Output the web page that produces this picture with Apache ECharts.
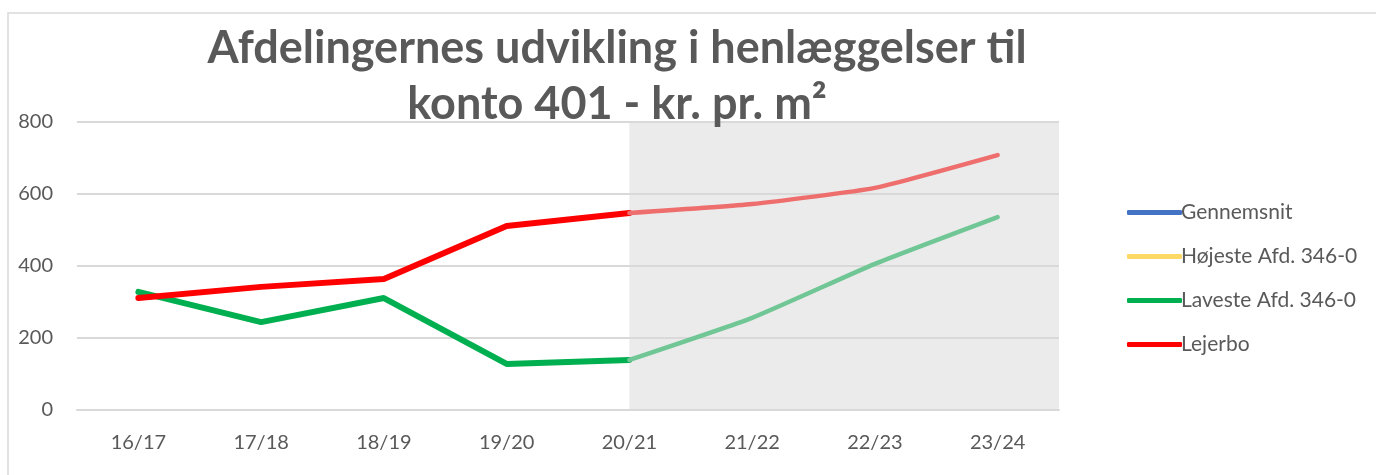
<!DOCTYPE html>
<html>
<head>
<meta charset="utf-8">
<script src="https://cdn.jsdelivr.net/npm/echarts@6/dist/echarts.min.js"></script>
<style>
    html, body { margin: 0; padding: 0; background: #fff; }
    #main { width: 1376px; height: 475px; }
</style>
</head>
<body>
<div id="main"></div>
<script>
// Chart data
const categories = ["16/17", "17/18", "18/19", "19/20", "20/21", "21/22", "22/23", "23/24"];
const gennemsnit = [null, null, null, null, null, null, null, null];
const hoejeste = [null, null, null, null, null, null, null, null];
const laveste = [328, 244, 311, 128, 139, 256, 406, 536];
const lejerbo = [311, 342, 364, 511, 547, 572, 617, 708];
const forecastFrom = 4; // index of 20/21, where the grey forecast area starts

// Split a series into the actual part and the forecast part (shared point at forecastFrom)
const actual = (arr) => arr.map((v, i) => (i <= forecastFrom ? v : null));
const forecast = (arr) => arr.map((v, i) => (i >= forecastFrom ? v : null));

const chart = echarts.init(document.getElementById("main"));

const labelFont = "Lato";
const textColor = "#595959";

const options = {
    animation: false,
    graphic: [
        {
            type: "rect",
            shape: { x: 8, y: 13, width: 1380, height: 470 },
            style: { fill: "none", stroke: "#D9D9D9", lineWidth: 1.5 },
            silent: true,
        },
        {
            type: "text",
            x: 617,
            y: 20,
            z: 10,
            style: {
                text: "Afdelingernes udvikling i henlæggelser til\nkonto 401 - kr. pr. m²",
                textAlign: "center",
                fill: textColor,
                font: "bold 45px Lato",
                lineHeight: 56,
            },
        },
    ],
    legend: {
        orient: "vertical",
        left: 1122,
        top: 197,
        icon: "roundRect",
        itemWidth: 55,
        itemHeight: 5,
        itemGap: 23,
        data: ["Gennemsnit", "Højeste Afd. 346-0", "Laveste Afd. 346-0", "Lejerbo"],
        textStyle: { color: textColor, fontFamily: labelFont, fontSize: 21, padding: [0, 0, 0, -6] },
    },
    grid: {
        left: 77,
        right: 317,
        top: 122,
        bottom: 65,
        containLabel: false,
    },
    xAxis: [
        {
            type: "category",
            data: categories,
            boundaryGap: true,
            axisLine: { lineStyle: { color: "#D9D9D9", width: 2 } },
            axisTick: { show: false },
            axisLabel: { color: textColor, fontFamily: labelFont, fontSize: 20, margin: 23 },
            z: 2,
        },
        {
            // hidden helper axis for the forecast background
            type: "value",
            min: 0,
            max: categories.length,
            show: false,
        },
    ],
    yAxis: {
        type: "value",
        min: 0,
        max: 800,
        interval: 200,
        axisLine: { show: false },
        axisTick: { show: false },
        axisLabel: { color: textColor, fontFamily: labelFont, fontSize: 20, margin: 24 },
        splitLine: { lineStyle: { color: "#D9D9D9", width: 2 } },
        z: 2,
    },
    series: [
        {
            name: "Prognose",
            type: "line",
            xAxisIndex: 1,
            data: [],
            z: 1,
            silent: true,
            markArea: {
                silent: true,
                itemStyle: { color: "#EBEBEB" },
                data: [[{ xAxis: forecastFrom + 0.5 }, { xAxis: categories.length }]],
            },
        },
        {
            name: "Gennemsnit",
            type: "line",
            color: "#4472C4",
            symbol: "none",
            lineStyle: { width: 5, cap: "round" },
            data: gennemsnit,
            z: 3,
        },
        {
            name: "Højeste Afd. 346-0",
            type: "line",
            color: "#FFD966",
            symbol: "none",
            lineStyle: { width: 5, cap: "round" },
            data: hoejeste,
            z: 3,
        },
        {
            name: "Laveste Afd. 346-0",
            type: "line",
            color: "#00B050",
            symbol: "none",
            lineStyle: { width: 6, cap: "round" },
            data: actual(laveste),
            z: 3,
        },
        {
            name: "Laveste prognose",
            type: "line",
            color: "#70C795",
            symbol: "none",
            smooth: 0.15,
            lineStyle: { width: 4.5, cap: "round" },
            data: forecast(laveste),
            z: 3,
        },
        {
            name: "Lejerbo",
            type: "line",
            color: "#FF0000",
            symbol: "none",
            lineStyle: { width: 6, cap: "round" },
            data: actual(lejerbo),
            z: 4,
        },
        {
            name: "Lejerbo prognose",
            type: "line",
            color: "#EE6E6E",
            symbol: "none",
            smooth: 0.15,
            lineStyle: { width: 4.5, cap: "round" },
            data: forecast(lejerbo),
            z: 4,
        },
    ],
};

chart.setOption(options);
</script>
</body>
</html>
